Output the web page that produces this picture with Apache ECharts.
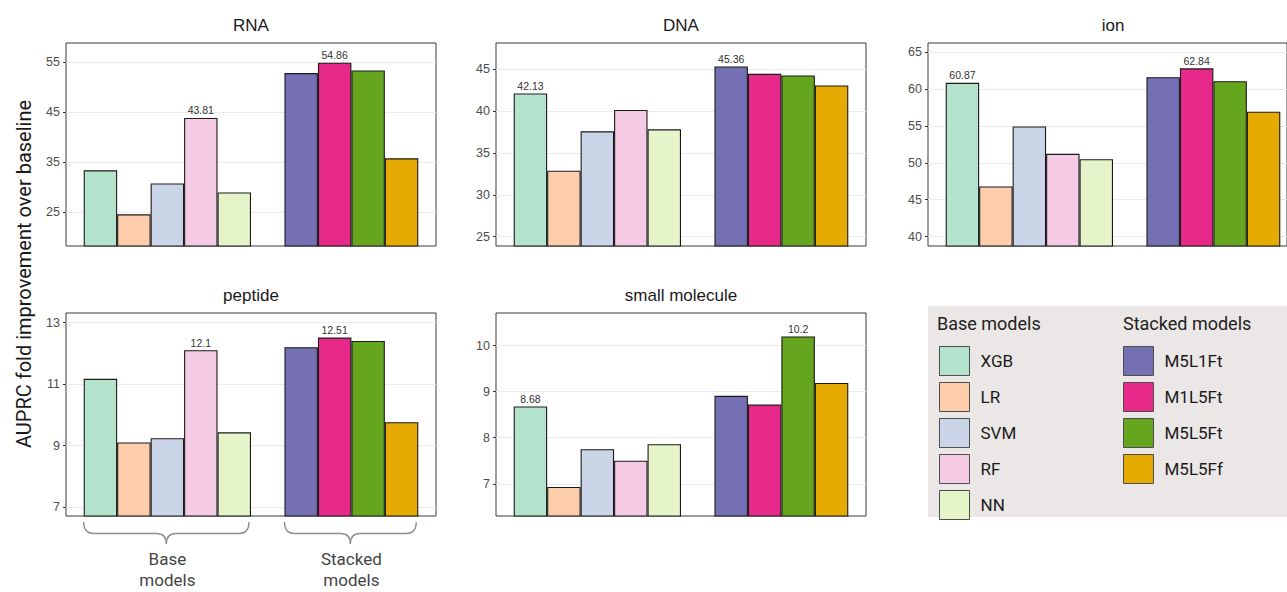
<!DOCTYPE html>
<html><head><meta charset="utf-8">
<script src="https://cdn.jsdelivr.net/npm/echarts@6/dist/echarts.min.js"></script>
<style>html,body{margin:0;padding:0;background:#fff}#c{width:1287px;height:592px}</style>
</head><body><div id="c"></div>
<script>
// ---------- data ----------
const baseModels = ['XGB', 'LR', 'SVM', 'RF', 'NN'];
const stackedModels = ['M5L1Ft', 'M1L5Ft', 'M5L5Ft', 'M5L5Ff'];
const groupLabels = ['Base\nmodels', 'Stacked\nmodels'];
const panelNames = ['RNA', 'DNA', 'ion', 'peptide', 'small molecule'];

const rnaValues           = [33.33, 24.54, 30.71, 43.81, 28.90, 52.79, 54.86, 53.31, 35.74];
const dnaValues           = [42.13, 32.88, 37.60, 40.16, 37.84, 45.36, 44.48, 44.28, 43.08];
const ionValues           = [60.87, 46.80, 54.95, 51.23, 50.50, 61.63, 62.84, 61.09, 56.95];
const peptideValues       = [11.17, 9.10, 9.24, 12.10, 9.43, 12.20, 12.51, 12.40, 9.76];
const smallMoleculeValues = [8.68, 6.93, 7.75, 7.50, 7.86, 8.91, 8.72, 10.20, 9.19];

const rnaTicks = [25, 35, 45, 55];
const dnaTicks = [25, 30, 35, 40, 45];
const ionTicks = [40, 45, 50, 55, 60, 65];
const peptideTicks = [7, 9, 11, 13];
const smallMoleculeTicks = [7, 8, 9, 10];

const rnaRange = [18.2, 58.8];
const dnaRange = [23.87, 48.17];
const ionRange = [38.72, 66.28];
const peptideRange = [6.71, 13.31];
const smallMoleculeRange = [6.30, 10.71];

// ---------- styles / layout ----------
const palette = ['#b3e2cd', '#fdcdac', '#cbd5e8', '#f4cae4', '#e6f5c9', '#7570b3', '#e7298a', '#66a61e', '#e6ab02'];
const panelBoxes = [[66, 43], [496, 43], [928, 43], [66, 313], [496, 313]];
const BOX_W = 370, BOX_H = 203, PAD = 17.7;
const SANS = '"Liberation Sans", Arial, sans-serif';
const ROBOTO = 'Roboto, "Noto Sans", sans-serif';

const allModels = baseModels.concat(stackedModels);
const slots = baseModels.concat([''], stackedModels); // empty slot = gap between groups
const panelValues = [rnaValues, dnaValues, ionValues, peptideValues, smallMoleculeValues];
const panelTicks = [rnaTicks, dnaTicks, ionTicks, peptideTicks, smallMoleculeTicks];
const panelRanges = [rnaRange, dnaRange, ionRange, peptideRange, smallMoleculeRange];

const grid = [], xAxis = [], yAxis = [], series = [], graphic = [];

panelNames.forEach((name, p) => {
  const [bx, by] = panelBoxes[p];
  const vals = panelValues[p];
  const outer = 2 * p, inner = 2 * p + 1;
  grid.push({left: bx, top: by, width: BOX_W, height: BOX_H, show: true,
             backgroundColor: '#fff', borderColor: '#3a3a3a', borderWidth: 1});
  grid.push({left: bx + PAD, top: by, width: BOX_W - 2 * PAD, height: BOX_H});
  xAxis.push({gridIndex: outer, type: 'value', min: 0, max: 1, show: false});
  yAxis.push({gridIndex: outer, type: 'value', min: panelRanges[p][0], max: panelRanges[p][1],
    axisLine: {show: false},
    axisTick: {show: true, length: 3, customValues: panelTicks[p], lineStyle: {color: '#333', width: 1}},
    axisLabel: {customValues: panelTicks[p], color: '#4d4d4d', fontSize: 12.5, margin: 6, fontFamily: SANS},
    splitLine: {show: true, lineStyle: {color: '#ebebeb', width: 1}}});
  xAxis.push({gridIndex: inner, type: 'category', data: slots, show: false, boundaryGap: true});
  yAxis.push({gridIndex: inner, type: 'value', min: panelRanges[p][0], max: panelRanges[p][1], show: false});

  const baseMax = Math.max.apply(null, vals.slice(0, baseModels.length));
  const stackMax = Math.max.apply(null, vals.slice(baseModels.length));
  allModels.forEach((m, j) => {
    const slotIdx = slots.indexOf(m);
    const v = vals[j];
    const isMax = (j < baseModels.length) ? v === baseMax : v === stackMax;
    series.push({
      type: 'bar', name: m, xAxisIndex: inner, yAxisIndex: inner,
      barGap: '-100%', barCategoryGap: '0%', clip: true,
      itemStyle: {color: palette[j], borderColor: '#1a1a1a', borderWidth: 1.1},
      label: {show: false},
      emphasis: {disabled: true},
      data: slots.map((s, k) => k === slotIdx
        ? {value: v, label: {show: isMax, position: 'top', distance: 2, fontSize: 10.5,
                             color: '#333', fontFamily: SANS, formatter: String(v)}}
        : '-')
    });
  });

  graphic.push({type: 'text', x: bx + BOX_W / 2, y: by - 18,
    style: {text: name, fontSize: 17, fontFamily: SANS, fill: '#1a1a1a',
            textAlign: 'center', textVerticalAlign: 'middle'}});
});

// y-axis title
graphic.push({type: 'text', x: 24, y: 274, rotation: Math.PI / 2,
  style: {text: 'AUPRC fold improvement over baseline', fontSize: 20, fontFamily: ROBOTO,
          fill: '#1a1a1a', textAlign: 'center', textVerticalAlign: 'middle'}});

// legend panel background + headers
graphic.push({type: 'rect', z: -10, shape: {x: 928, y: 306, width: 380, height: 211},
  style: {fill: '#ebe7e6'}});
graphic.push({type: 'text', x: 937, y: 323, style: {text: 'Base models', fontSize: 18,
  fontFamily: ROBOTO, fill: '#222', textAlign: 'left', textVerticalAlign: 'middle'}});
graphic.push({type: 'text', x: 1123, y: 323, style: {text: 'Stacked models', fontSize: 18,
  fontFamily: ROBOTO, fill: '#222', textAlign: 'left', textVerticalAlign: 'middle'}});

const legendCommon = {orient: 'vertical', icon: 'rect', itemWidth: 30, itemHeight: 29, itemGap: 6,
  padding: 0,
  textStyle: {fontSize: 17, color: '#1a1a1a', fontFamily: ROBOTO, padding: [0, 0, 0, 6]},
  itemStyle: {borderColor: '#4d4d4d', borderWidth: 1}, inactiveColor: '#ccc'};

const option = {
  animation: false,
  backgroundColor: '#fff',
  grid, xAxis, yAxis, series, graphic,
  legend: [
    Object.assign({data: baseModels, left: 939, top: 346}, legendCommon),
    Object.assign({data: stackedModels, left: 1123, top: 346}, legendCommon)
  ]
};

const chart = echarts.init(document.getElementById('c'), null, {renderer: 'svg'});
chart.setOption(option);

// group braces under the bottom-left panel, positioned through its category axis
const braceAxis = 2 * 3 + 1;
const slotW = (BOX_W - 2 * PAD) / slots.length;
const groups = [baseModels, stackedModels];
const y0 = panelBoxes[3][1] + BOX_H + 6, y1 = y0 + 11.5, y2 = y1 + 10.5;
const braceStyle = {fill: 'none', stroke: '#8c8c8c', lineWidth: 1.3};
groups.forEach((g, gi) => {
  const xL = chart.convertToPixel({xAxisIndex: braceAxis}, g[0]) - slotW / 2;
  const xR = chart.convertToPixel({xAxisIndex: braceAxis}, g[g.length - 1]) + slotW / 2 - 2;
  const xt = (xL + xR) / 2, r = 10;
  const q = (x1, y1_, cx, cy, x2, y2_) => ({type: 'bezierCurve',
    shape: {x1: x1, y1: y1_, cpx1: cx, cpy1: cy, x2: x2, y2: y2_}, style: braceStyle});
  const l = (x1, x2) => ({type: 'line', shape: {x1: x1, y1: y1, x2: x2, y2: y1}, style: braceStyle});
  graphic.push(q(xL, y0, xL, y1, xL + r, y1));
  graphic.push(l(xL + r, xt - r));
  graphic.push(q(xt - r, y1, xt, y1, xt, y2));
  graphic.push(q(xt, y2, xt, y1, xt + r, y1));
  graphic.push(l(xt + r, xR - r));
  graphic.push(q(xR - r, y1, xR, y1, xR, y0));
  graphic.push({type: 'text', x: xt + 1, y: 569,
    style: {text: groupLabels[gi], fontSize: 17, lineHeight: 21, fontFamily: ROBOTO, fill: '#444',
            textAlign: 'center', textVerticalAlign: 'middle'}});
});
chart.setOption({graphic});
</script>
</body></html>
